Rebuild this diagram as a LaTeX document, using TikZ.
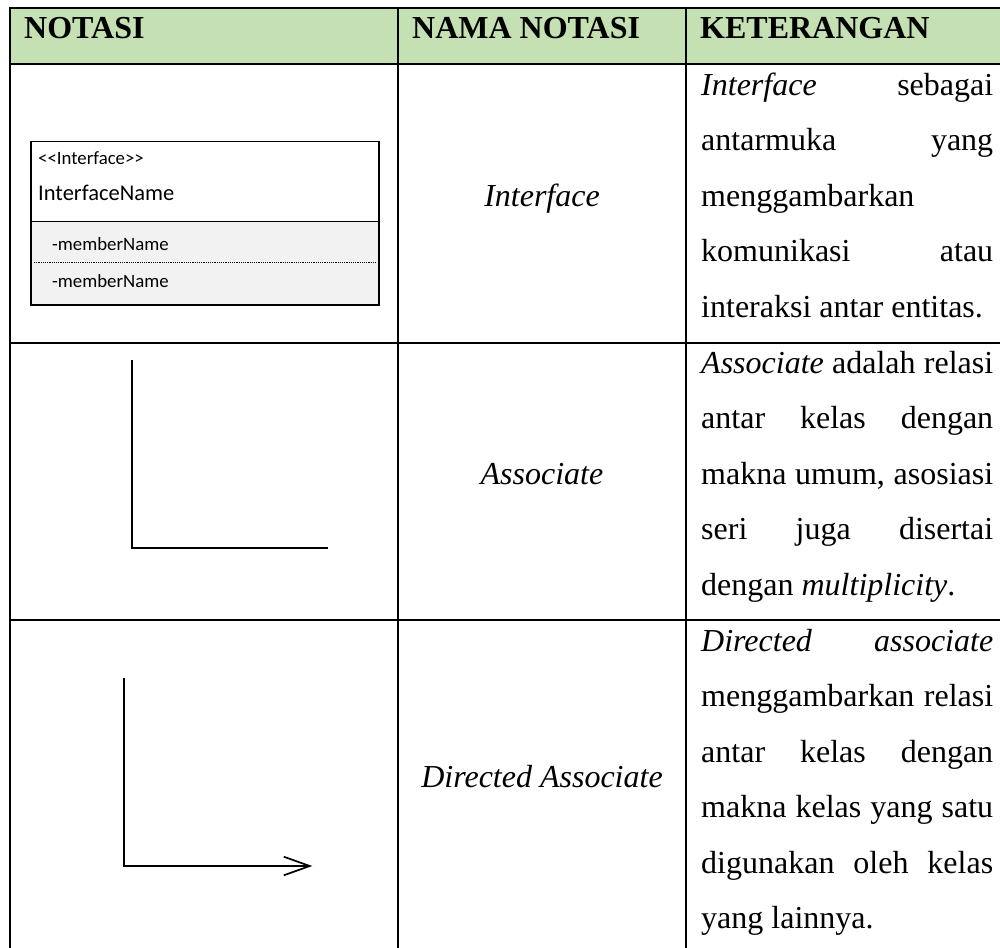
\documentclass[tikz,border=0pt]{standalone}
\usepackage{fontspec}
\setmainfont{Liberation Serif}
\newfontfamily\umlfont{Carlito}
\usetikzlibrary{arrows.meta}
\definecolor{headgreen}{RGB}{197,224,179}
\definecolor{umlgray}{RGB}{242,242,242}
\hyphenpenalty=10000
\exhyphenpenalty=10000
\tolerance=10000
\hbadness=10000
\begin{document}
\begin{tikzpicture}[x=1pt,y=-1pt,
  grid/.style={line width=2pt,line cap=rect},
  head/.style={anchor=base west,inner sep=0pt,font=\fontsize{32}{55.5}\selectfont\bfseries},
  notname/.style={anchor=base,inner sep=0pt,font=\fontsize{32}{55.5}\selectfont\itshape},
  desc/.style={anchor=north west,inner sep=0pt,text width=292pt,align=justify,font=\fontsize{32}{55.5}\selectfont},
  umltext/.style={anchor=base west,inner sep=0pt,font=\umlfont\fontsize{18.8}{22}\selectfont},
  relline/.style={line width=1.7pt}]
\useasboundingbox (0,0) rectangle (1000,947);
% header
\fill[headgreen] (10,8) rectangle (1001,64);
\foreach \y in {8,64,343,620} \draw[grid] (10,\y)--(1001,\y);
\foreach \x in {10,398,686} \draw[grid] (\x,8)--(\x,950);
\node[head] (hNotasi) at (24,39) {NOTASI};
\node[head] (hNama) at (412,39) {NAMA NOTASI};
\node[head] (hKet) at (700,39) {KETERANGAN};
% interface
\fill[white] (31,141.5) rectangle (379,221.5);
\fill[umlgray] (31,221.5) rectangle (379,305);
\draw[line width=1.3pt] (31,141.5) rectangle (379,305);
\draw[line width=1.3pt] (31,221.5)--(379,221.5);
\draw[line width=0.9pt,dash pattern=on 1.2pt off 1pt] (34,262.7)--(376,262.7);
\node[umltext] (stereo) at (38,164) {<<Interface>>};
\node[umltext,font=\umlfont\fontsize{22.5}{26}\selectfont] (ifName) at (38,200) {InterfaceName};
\node[umltext] (memberA) at (52,250) {-memberName};
\node[umltext] (memberB) at (52,287.7) {-memberName};
\node[notname] (nInterface) at (542,206) {Interface};
\node[desc] (dInterface) at (701,56.15) {\strut\textit{Interface} sebagai\linebreak antarmuka yang\linebreak menggambarkan\linebreak komunikasi atau\linebreak interaksi antar entitas.};
% associate
\coordinate (assocTop) at (131.7,360);
\coordinate (assocEnd) at (327.7,547.7);
\draw[relline] (assocTop) |- (assocEnd);
\node[notname] (nAssoc) at (542,484) {Associate};
\node[desc] (dAssoc) at (701,334.15) {\strut\textit{Associate} adalah relasi\linebreak antar kelas dengan\linebreak makna umum, asosiasi\linebreak seri juga disertai\linebreak dengan \textit{multiplicity}.};
% directed associate
\coordinate (dirTop) at (124.3,678.3);
\coordinate (dirEnd) at (312.3,866);
\draw[relline,-{Straight Barb[length=26pt,width=18.6pt]}] (dirTop) |- (dirEnd);
\node[notname] (nDirected) at (542,787) {Directed Associate};
\node[desc] (dDirected) at (701,612.15) {\strut\textit{Directed associate}\linebreak menggambarkan relasi\linebreak antar kelas dengan\linebreak makna kelas yang satu\linebreak digunakan oleh kelas\linebreak yang lainnya.};
\end{tikzpicture}
\end{document}
